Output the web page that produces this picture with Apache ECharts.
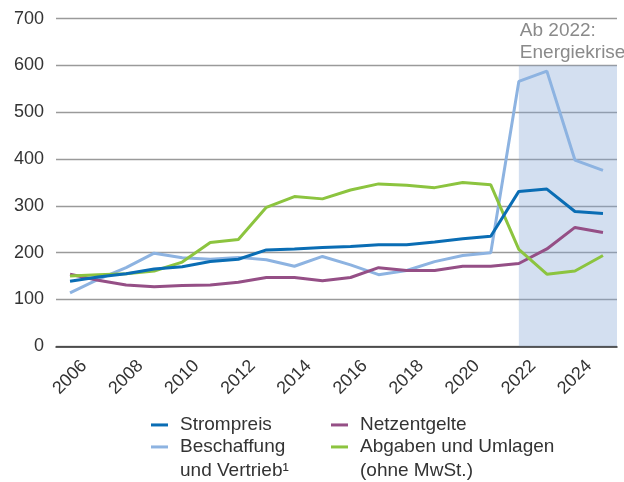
<!DOCTYPE html>
<html><head><meta charset="utf-8">
<script src="https://cdn.jsdelivr.net/npm/echarts@6/dist/echarts.min.js"></script>
<style>html,body{margin:0;padding:0;background:#fff;}#c{width:624px;height:482px;}</style>
</head><body><div id="c"></div>
<script>
const years = ['2006','2007','2008','2009','2010','2011','2012','2013','2014','2015','2016','2017','2018','2019','2020','2021','2022','2023','2024','2025'];
const strompreis = [139,148,155,165,170,181,186,206,208,211,213,217,217,223,230,235,331,336,288,284];
const beschaffung = [114,143,168,199,189,186,190,185,171,192,174,153,162,181,194,200,566,588,398,376];
const netzentgelte = [154,141,131,127,130,131,137,147,147,140,147,168,162,162,171,171,177,208,254,243];
const abgaben = [150,153,155,161,180,222,228,297,320,315,334,347,344,339,350,345,207,154,161,194];
const seriesNames = ['Strompreis','Beschaffung\nund Vertrieb¹','Netzentgelte','Abgaben und Umlagen\n(ohne MwSt.)'];
const crisisStart = '2022';
const crisisTop = 600;
const crisisLabel = 'Ab 2022:\nEnergiekrise';
const yTicks = {min:0, max:700, interval:100};

const colors = ['#0a6db4','#8db3e1','#954f86','#8cc43f'];
const font = 'Liberation Sans, Arial, Helvetica, sans-serif';
const chart = echarts.init(document.getElementById('c'));

function legendAt(name, left, top, multi) {
  return {
    data:[name], left:left, top:top, padding:0, icon:'rect', itemWidth:17, itemHeight:3,
    selectedMode:false,
    formatter: multi ? (n => '\n' + n) : (n => n),
    textStyle:{fontFamily:font, fontSize:19, color:'#333', lineHeight:23.5, padding:[0,0,0,7]}
  };
}

chart.setOption({
  animation:false,
  color: colors,
  grid:{left:56, right:7, top:18.7, bottom:135.7, containLabel:false},
  legend:[
    legendAt(seriesNames[0], 151, 413.2, false),
    legendAt(seriesNames[1], 151, 411.7, true),
    legendAt(seriesNames[2], 331, 413.2, false),
    legendAt(seriesNames[3], 331, 411.7, true)
  ],
  xAxis:[{
    type:'category', data:years, boundaryGap:true,
    axisLine:{show:true, lineStyle:{color:'#333', width:1.5}},
    axisTick:{show:false},
    axisLabel:{interval:1, rotate:45, align:'center', verticalAlign:'middle', margin:31,
      fontFamily:font, fontSize:18, color:'#333'},
    splitLine:{show:false}
  },{
    type:'value', min:-0.5, max:years.length-0.5, show:false
  }],
  yAxis:{
    type:'value', min:yTicks.min, max:yTicks.max, interval:yTicks.interval,
    axisLine:{show:false}, axisTick:{show:false},
    axisLabel:{fontFamily:font, fontSize:18, color:'#333', margin:12},
    splitLine:{show:true, lineStyle:{color:'#9a9a9a', width:1.3}}
  },
  series:[
    {type:'line', xAxisIndex:1, data:[], silent:true, z:1,
     markArea:{silent:true, itemStyle:{color:'rgba(129,164,212,0.35)'},
       label:{show:true, position:[1,-46], align:'left', verticalAlign:'top',
         formatter: crisisLabel, fontFamily:font, fontSize:19, lineHeight:22.5, color:'#8a8a8a'},
       data:[[{xAxis: years.indexOf(crisisStart), yAxis:0},{xAxis: years.length-0.5, yAxis:crisisTop}]]}},
    {name:seriesNames[0], type:'line', data:strompreis, symbol:'none', lineStyle:{width:3, color:colors[0]}, itemStyle:{color:colors[0]}, z:5},
    {name:seriesNames[1], type:'line', data:beschaffung, symbol:'none', lineStyle:{width:3, color:colors[1]}, itemStyle:{color:colors[1]}, z:3},
    {name:seriesNames[2], type:'line', data:netzentgelte, symbol:'none', lineStyle:{width:3, color:colors[2]}, itemStyle:{color:colors[2]}, z:3},
    {name:seriesNames[3], type:'line', data:abgaben, symbol:'none', lineStyle:{width:3, color:colors[3]}, itemStyle:{color:colors[3]}, z:4}
  ]
});
</script></body></html>
